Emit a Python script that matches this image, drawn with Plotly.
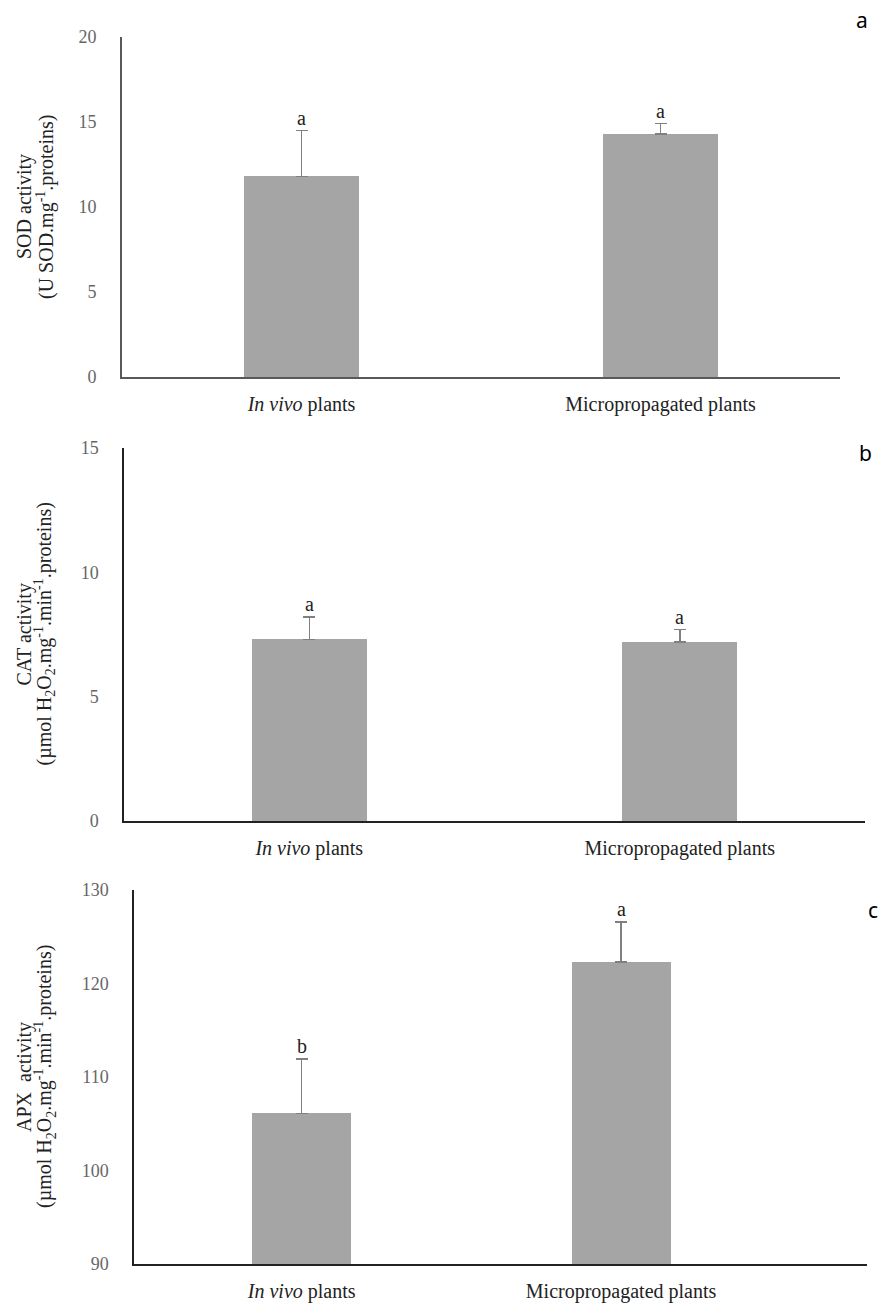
import plotly.graph_objects as go

# ---- data ----
categories = ["<i>In vivo</i> plants", "Micropropagated plants"]

sod_values = [11.8, 14.3]
sod_errors = [2.7, 0.6]
sod_letters = ["a", "a"]
sod_ticks = [0, 5, 10, 15, 20]

cat_values = [7.3, 7.2]
cat_errors = [0.9, 0.5]
cat_letters = ["a", "a"]
cat_ticks = [0, 5, 10, 15]

apx_values = [106.1, 122.3]
apx_errors = [5.8, 4.3]
apx_letters = ["b", "a"]
apx_ticks = [90, 100, 110, 120, 130]

panel_labels = ["a", "b", "c"]
y_titles = [
    ["SOD activity", "(U SOD.mg<sup>-1</sup>.proteins)"],
    ["CAT activity", "(µmol H<sub>2</sub>O<sub>2</sub>.mg<sup>-1</sup>.min<sup>-1</sup>.proteins)"],
    ["APX  activity", "(µmol H<sub>2</sub>O<sub>2</sub>.mg<sup>-1</sup>.min<sup>-1</sup>.proteins)"],
]

W, H = 880, 1304
SERIF = "Liberation Serif, Times New Roman, serif"
BAR_COLOR = "#a5a5a5"
ERR_COLOR = "#808080"


def px_x(p):
    return p / W


def px_y(p):
    return 1 - p / H


panels = [
    dict(vals=sod_values, errs=sod_errors, letters=sod_letters, ticks=sod_ticks,
         yrange=[0, 20], xdom=[122, 840], ydom=[377, 37], xrange=[-0.5, 1.5],
         width=0.32, line="#595959", lw=2, letter_pos=(862, 20)),
    dict(vals=cat_values, errs=cat_errors, letters=cat_letters, ticks=cat_ticks,
         yrange=[0, 15], xdom=[124, 865], ydom=[821, 448], xrange=[-0.5, 1.5],
         width=0.31, line="#222222", lw=1.5, letter_pos=(865, 453)),
    dict(vals=apx_values, errs=apx_errors, letters=apx_letters, ticks=apx_ticks,
         yrange=[90, 130], xdom=[134, 867], ydom=[1264, 890], xrange=[-0.525, 1.77],
         width=0.31, line="#222222", lw=1.5, letter_pos=(873, 910)),
]

fig = go.Figure()
annotations = []

for i, p in enumerate(panels):
    n = "" if i == 0 else str(i + 1)
    xa, ya = "x" + n, "y" + n
    fig.add_trace(go.Bar(
        x=categories, y=p["vals"], xaxis=xa, yaxis=ya,
        width=p["width"], marker=dict(color=BAR_COLOR, line=dict(width=0)),
        error_y=dict(type="data", array=p["errs"], symmetric=False,
                     arrayminus=[0] * len(p["errs"]), color=ERR_COLOR,
                     thickness=1.5, width=6),
        showlegend=False, hoverinfo="skip",
    ))
    # significance letters
    for c, v, e, L in zip(categories, p["vals"], p["errs"], p["letters"]):
        annotations.append(dict(
            x=c, y=v + e, xref=xa, yref=ya, text=L, showarrow=False,
            yanchor="bottom", yshift=0,
            font=dict(family=SERIF, size=20, color="#222222"),
        ))
    # y-axis title, one annotation per line
    ymid = px_y((p["ydom"][0] + p["ydom"][1]) / 2)
    for line_text, lx in zip(y_titles[i], [24, 45]):
        annotations.append(dict(
            x=px_x(lx), y=ymid, xref="paper", yref="paper",
            text=line_text, showarrow=False,
            textangle=-90, xanchor="center", yanchor="middle",
            font=dict(family=SERIF, size=20, color="#222222"),
        ))
    # panel letter
    lx, ly = p["letter_pos"]
    annotations.append(dict(
        x=px_x(lx), y=px_y(ly), xref="paper", yref="paper",
        text=panel_labels[i], showarrow=False,
        xanchor="center", yanchor="middle",
        font=dict(family="Noto Sans, DejaVu Sans, sans-serif", size=21, color="#000000"),
    ))

    fig.layout["xaxis" + n] = dict(
        domain=[px_x(p["xdom"][0]), px_x(p["xdom"][1])],
        anchor=ya, range=p["xrange"], type="category",
        showline=True, linecolor=p["line"], linewidth=p["lw"],
        showgrid=False, zeroline=False, ticks="", automargin=False,
        tickfont=dict(family=SERIF, size=20, color="#222222"),
        ticklabelstandoff=8,
    )
    fig.layout["yaxis" + n] = dict(
        domain=[px_y(p["ydom"][0]), px_y(p["ydom"][1])],
        anchor=xa, range=p["yrange"], tickvals=p["ticks"],
        showline=True, linecolor=p["line"], linewidth=p["lw"],
        showgrid=False, zeroline=False, ticks="", automargin=False,
        tickfont=dict(family=SERIF, size=18, color="#666666"),
        ticklabelstandoff=20,
    )

fig.update_layout(
    width=W, height=H,
    margin=dict(l=0, r=0, t=0, b=0, autoexpand=False),
    paper_bgcolor="white", plot_bgcolor="white",
    annotations=annotations,
    bargap=0,
)

fig.write_html(
    "out.html",
    config={"displayModeBar": False},
    post_script="document.body.style.margin='0';document.body.style.overflow='hidden';",
)
